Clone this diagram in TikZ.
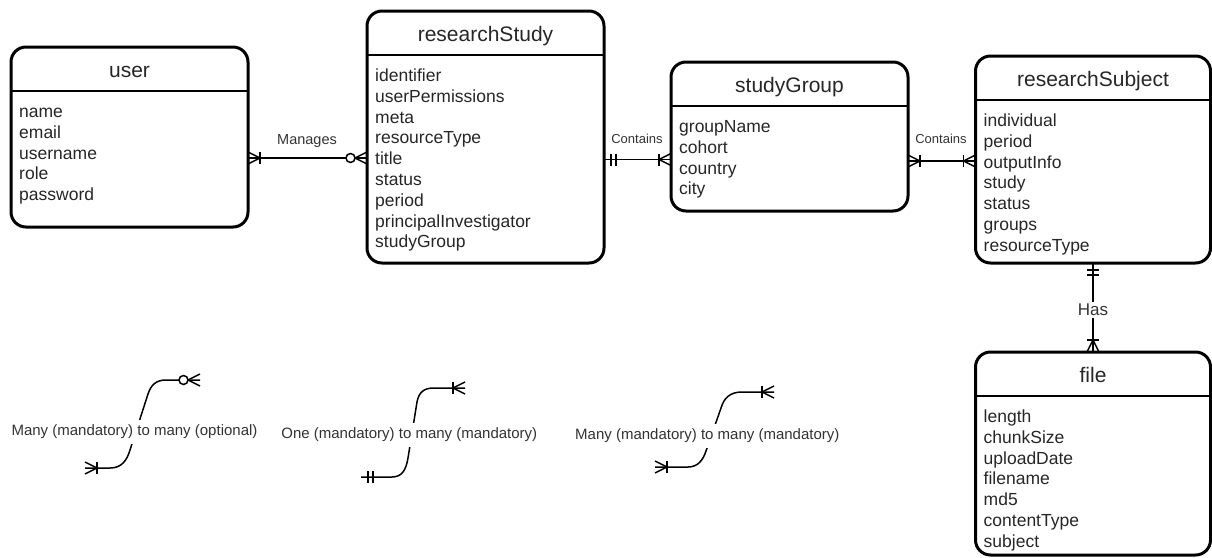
\documentclass[tikz,border=0pt]{standalone}
\usepackage{fontspec}
\setmainfont{Liberation Sans}
\usetikzlibrary{calc}
\definecolor{txt}{HTML}{262626}
\definecolor{lbl}{HTML}{333333}

\tikzset{
  entbox/.style={draw, line width=3pt, rounded corners=15pt, inner sep=0pt, outer sep=0pt},
  sepline/.style={line width=2.5pt},
  enttitle/.style={font=\fontsize{21}{25}\selectfont, text=txt, inner sep=0pt, anchor=base},
  attr/.style={font=\fontsize{17.5}{21}\selectfont, text=txt, inner sep=0pt, anchor=base west},
  rel/.style={line width=1.5pt},
  rellabel/.style={text=lbl, inner sep=1pt, anchor=base},
  legendlabel/.style={font=\fontsize{15}{18}\selectfont, text=lbl, fill=white, inner xsep=1pt, inner ysep=5pt},
  pics/mandmany/.style={code={\draw[rel] (0,-6)--(12,0)--(0,6); \draw[rel] (12,-6)--(12,6);}},
  pics/zeromany/.style={code={\draw[rel] (0,-6)--(12,0)--(0,6); \draw[rel,fill=white] (16.5,0) circle[radius=4.5];}},
  pics/mandone/.style={code={\draw[rel] (7,-6)--(7,6); \draw[rel] (12,-6)--(12,6);}},
}

\newcommand\mkentity[7]{%
  \node[entbox, minimum width=#4pt, minimum height=#5pt] (#1) at (#2,#3) {};
  \draw[sepline] ($(#1.north west)+(0,44)$) -- ($(#1.north east)+(0,44)$);
  \node[enttitle] (#1-title) at ($(#1.north)+(0,30)$) {#6};
  \foreach \attrname [count=\i] in {#7}
    \node[attr] (#1-a\i) at ($(#1.north west)+(8,{70.5+(\i-1)*20.8})$) {\attrname};
}

\begin{document}
\begin{tikzpicture}[x=1pt,y=-1pt]
\useasboundingbox (0,0) rectangle (1212,557);

% entities
\mkentity{user}{129.5}{137}{237}{180}{user}{name,email,username,role,password}
\mkentity{study}{485.5}{137}{237}{252}{researchStudy}{identifier,userPermissions,meta,resourceType,title,status,period,principalInvestigator,studyGroup}
\mkentity{group}{789.5}{136.5}{237}{149}{studyGroup}{groupName,cohort,country,city}
\mkentity{subject}{1093}{159.5}{235}{207}{researchSubject}{individual,period,outputInfo,study,status,groups,resourceType}
\mkentity{file}{1093}{453.5}{235}{203}{file}{length,chunkSize,uploadDate,filename,md5,contentType,subject}

% Manages
\coordinate (m1) at ($(user.east)+(0,21)$);
\coordinate (m2) at (m1 -| study.west);
\draw[rel] (m1) -- (m2);
\pic at (m1) {mandmany};
\pic[rotate=180] at (m2) {zeromany};
\node[rellabel, font=\fontsize{14.5}{17}\selectfont] (manages) at (307,144) {Manages};

% Contains (study - group)
\coordinate (c1) at ($(study.east)+(0,22.5)$);
\coordinate (c2) at (c1 -| group.west);
\draw[rel] (c1) -- (c2);
\pic at (c1) {mandone};
\pic[rotate=180] at (c2) {mandmany};
\node[rellabel, font=\fontsize{13}{16}\selectfont] (contains1) at (637,143) {Contains};

% Contains (group - subject)
\coordinate (d1) at ($(group.east)+(0,24.5)$);
\coordinate (d2) at (d1 -| subject.west);
\draw[rel] (d1) -- (d2);
\pic at (d1) {mandmany};
\pic[rotate=180] at (d2) {mandmany};
\node[rellabel, font=\fontsize{13}{16}\selectfont] (contains2) at (941,143) {Contains};

% Has
\draw[rel] (subject.south) -- (file.north);
\pic[rotate=-90] at (subject.south) {mandone};
\pic[rotate=90] at (file.north) {mandmany};
\node[font=\fontsize{17}{20}\selectfont, text=lbl, fill=white, inner sep=2pt] (has) at (1093,310) {Has};

% Legend 1
\coordinate (l1a) at (85,468);
\coordinate (l1b) at (200,380);
\draw[rel] (l1a) -- (110,468) .. controls (122,468) and (127,460) .. (130,450) -- (148,394) .. controls (151,385) and (156,380) .. (166,380) -- (l1b);
\pic at (l1a) {mandmany};
\pic[rotate=180] at (l1b) {zeromany};
\node[legendlabel] (leg1) at (134.5,432) {Many (mandatory) to many (optional)};

% Legend 2
\coordinate (l2a) at (361,477);
\coordinate (l2b) at (465,388);
\draw[rel] (l2a) -- (392,477) .. controls (402,477) and (406,470) .. (408,458) -- (417,402) .. controls (419,392) and (424,388) .. (434,388) -- (l2b);
\pic at (l2a) {mandone};
\pic[rotate=180] at (l2b) {mandmany};
\node[legendlabel] (leg2) at (409.3,435) {One (mandatory) to many (mandatory)};

% Legend 3
\coordinate (l3a) at (655,467);
\coordinate (l3b) at (774,392);
\draw[rel] (l3a) -- (688,467) .. controls (698,467) and (703,460) .. (706,451) -- (721,408) .. controls (724,398) and (730,392) .. (742,392) -- (l3b);
\pic at (l3a) {mandmany};
\pic[rotate=180] at (l3b) {mandmany};
\node[legendlabel] (leg3) at (707.3,436) {Many (mandatory) to many (mandatory)};
\end{tikzpicture}
\end{document}
